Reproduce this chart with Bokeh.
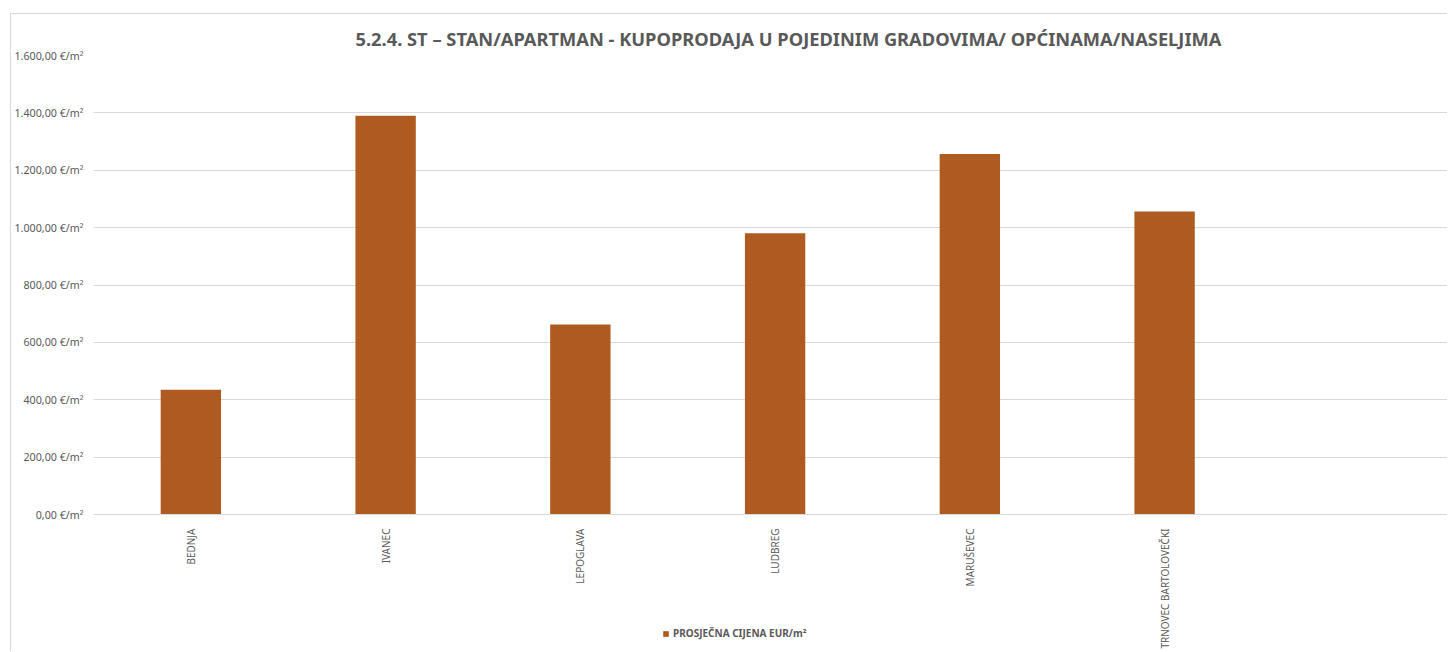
from bokeh.plotting import figure
from bokeh.models import Range1d, Legend, LegendItem, FixedTicker, Title, ColumnDataSource
from bokeh.embed import file_html
from bokeh.resources import INLINE
import math

# ---- data ----
cities = ["BEDNJA", "IVANEC", "LEPOGLAVA", "LUDBREG", "MARUŠEVEC", "TRNOVEC BARTOLOVEČKI"]
prices = [435, 1390, 662, 980, 1257, 1056]
y_ticks = [0, 200, 400, 600, 800, 1000, 1200, 1400, 1600]
y_tick_labels = ["0,00 €/m²", "200,00 €/m²", "400,00 €/m²", "600,00 €/m²", "800,00 €/m²",
                 "1.000,00 €/m²", "1.200,00 €/m²", "1.400,00 €/m²", "1.600,00 €/m²"]
title_text = "5.2.4. ST – STAN/APARTMAN - KUPOPRODAJA U POJEDINIM GRADOVIMA/ OPĆINAMA/NASELJIMA"
series_name = "PROSJEČNA CIJENA EUR/m²"

GRAY = "#595959"
GRID = "#d9d9d9"
BAR = "#AE5A21"
FONT = "Noto Sans"

# category slots (7 slots, last one empty and partly cut by the page edge)
positions = [i + 0.5 for i in range(len(cities))]
frame_px_w = 1448 - 94
slot_px = 194.6
x_end = frame_px_w / slot_px

# frame: 459 px for 0..1600; extra 138 px below zero for category labels and legend
units_per_px = 1600 / 459
y_start = -138 * units_per_px

p = figure(x_range=Range1d(0, x_end), y_range=Range1d(y_start, 1600),
           width=1437, height=638, output_backend="svg", toolbar_location=None,
           min_border_left=0, min_border_right=0, min_border_top=41, min_border_bottom=0)
p.margin = (13, 0, 0, 10)
p.styles = {"border-left": "1px solid #d9d9d9", "border-top": "1px solid #d9d9d9"}

src = ColumnDataSource(dict(x=positions, top=prices))
r = p.vbar(x="x", top="top", bottom=0, width=0.31, source=src, fill_color=BAR, line_color=None)

p.title = Title(text=title_text, align="left", offset=262, text_font=FONT,
                text_font_size="18.3px", text_font_style="bold", text_color=GRAY)

p.outline_line_color = None
p.xgrid.grid_line_color = None
p.ygrid.grid_line_color = GRID
p.ygrid.ticker = FixedTicker(ticks=y_ticks)

p.yaxis.ticker = FixedTicker(ticks=y_ticks)
p.yaxis.major_label_overrides = {t: l for t, l in zip(y_ticks, y_tick_labels)}
p.yaxis.axis_line_color = None
p.yaxis.major_tick_line_color = None
p.yaxis.minor_tick_line_color = None
p.yaxis.major_label_text_font = FONT
p.yaxis.major_label_text_font_size = "10.7px"
p.yaxis.major_label_text_color = GRAY
p.yaxis.major_label_standoff = 4

p.xaxis.fixed_location = 0
p.xaxis.ticker = FixedTicker(ticks=positions)
p.xaxis.major_label_overrides = {x: c for x, c in zip(positions, cities)}
p.xaxis.minor_tick_line_color = None
p.xaxis.axis_line_color = GRID
p.xaxis.major_tick_line_color = None
p.xaxis.major_label_orientation = math.pi / 2
p.xaxis.major_label_text_font = FONT
p.xaxis.major_label_text_font_size = "10px"
p.xaxis.major_label_text_color = GRAY
p.xaxis.major_label_standoff = 8

legend = Legend(items=[LegendItem(label=series_name, renderers=[r])],
                location=(569, 12), orientation="horizontal",
                padding=0, margin=0, border_line_color=None, background_fill_alpha=0,
                glyph_width=7, glyph_height=7, label_height=12, label_text_font=FONT,
                label_text_font_size="10px", label_text_font_style="bold",
                label_text_color=GRAY, label_standoff=4)
p.add_layout(legend, "center")

open("out.html", "w").write(file_html(p, INLINE))
